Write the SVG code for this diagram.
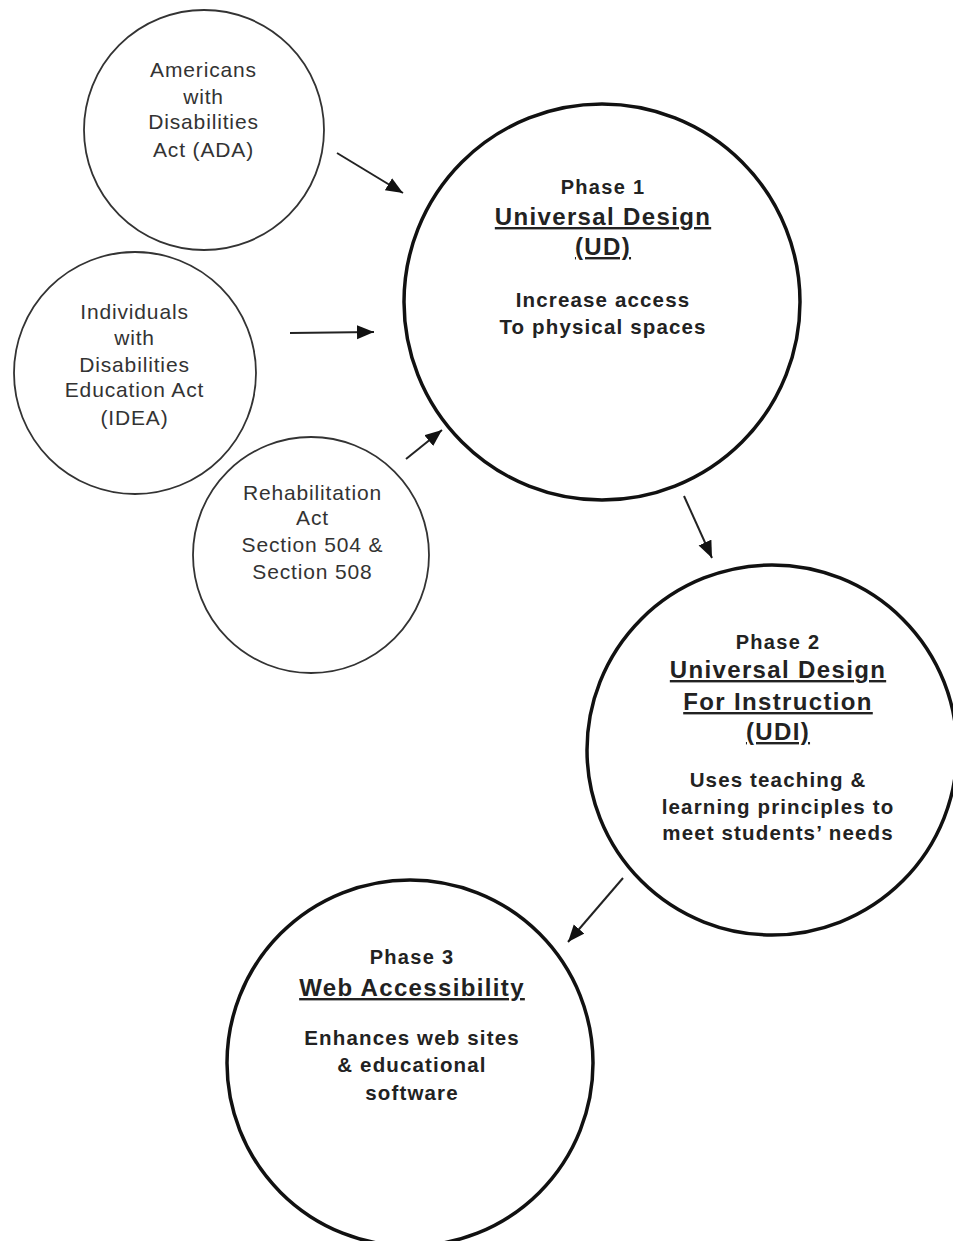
<svg xmlns="http://www.w3.org/2000/svg" width="953" height="1241" viewBox="0 0 953 1241">
<defs>
<marker id="ah" markerUnits="userSpaceOnUse" markerWidth="20" markerHeight="16" refX="17" refY="7" orient="auto">
<path d="M0,0 L17,7 L0,14 z" fill="#111"/>
</marker>
<style>
.small{fill:#fff;stroke:#333;stroke-width:1.8}
.big{fill:#fff;stroke:#111;stroke-width:3.5}
.lt{font-family:"Liberation Sans",Arial,sans-serif;font-size:21px;letter-spacing:0.85px;fill:#333;text-anchor:middle}
.bt{font-family:"Liberation Sans",Arial,sans-serif;font-weight:bold;fill:#222;text-anchor:middle}
.ph{font-size:20px;letter-spacing:1.3px}
.ti{font-size:24px;letter-spacing:1.35px;text-decoration:underline}
.ds{font-size:20.5px;letter-spacing:1.15px}
.conn{stroke:#222;stroke-width:2;fill:none;marker-end:url(#ah)}
</style>
</defs>
<rect width="953" height="1241" fill="#fff"/>
<g id="ada">
<circle class="small" cx="204" cy="130" r="120"/>
<text class="lt" x="203.5" y="77">Americans</text>
<text class="lt" x="203.5" y="104">with</text>
<text class="lt" x="203.5" y="129">Disabilities</text>
<text class="lt" x="203.5" y="157">Act (ADA)</text>
</g>
<g id="idea">
<circle class="small" cx="135" cy="373" r="121"/>
<text class="lt" x="134.5" y="319">Individuals</text>
<text class="lt" x="134.5" y="345">with</text>
<text class="lt" x="134.5" y="372">Disabilities</text>
<text class="lt" x="134.5" y="397">Education Act</text>
<text class="lt" x="134.5" y="425">(IDEA)</text>
</g>
<g id="rehab">
<circle class="small" cx="311" cy="555" r="118"/>
<text class="lt" x="312.5" y="500">Rehabilitation</text>
<text class="lt" x="312.5" y="525">Act</text>
<text class="lt" x="312.5" y="552">Section 504 &amp;</text>
<text class="lt" x="312.5" y="579">Section 508</text>
</g>
<g id="phase1">
<circle class="big" cx="602" cy="302" r="198"/>
<text class="bt ph" x="603" y="194">Phase 1</text>
<text class="bt ti" x="603" y="225">Universal Design</text>
<text class="bt ti" x="603" y="255">(UD)</text>
<text class="bt ds" x="603" y="307">Increase access</text>
<text class="bt ds" x="603" y="334">To physical spaces</text>
</g>
<g id="phase2">
<circle class="big" cx="772" cy="750" r="185"/>
<text class="bt ph" x="778" y="649">Phase 2</text>
<text class="bt ti" x="778" y="678">Universal Design</text>
<text class="bt ti" x="778" y="710">For Instruction</text>
<text class="bt ti" x="778" y="740">(UDI)</text>
<text class="bt ds" x="778" y="787">Uses teaching &amp;</text>
<text class="bt ds" x="778" y="814">learning principles to</text>
<text class="bt ds" x="778" y="840">meet students’ needs</text>
</g>
<g id="phase3">
<circle class="big" cx="410" cy="1063" r="183"/>
<text class="bt ph" x="412" y="964">Phase 3</text>
<text class="bt ti" x="412" y="996">Web Accessibility</text>
<text class="bt ds" x="412" y="1045">Enhances web sites</text>
<text class="bt ds" x="412" y="1072">&amp; educational</text>
<text class="bt ds" x="412" y="1100">software</text>
</g>
<g id="connectors">
<line class="conn" x1="337" y1="153" x2="403" y2="193"/>
<line class="conn" x1="290" y1="333" x2="374" y2="332"/>
<line class="conn" x1="406" y1="459" x2="442" y2="430"/>
<line class="conn" x1="684" y1="496" x2="712" y2="558"/>
<line class="conn" x1="623" y1="878" x2="568" y2="942"/>
</g>
</svg>
